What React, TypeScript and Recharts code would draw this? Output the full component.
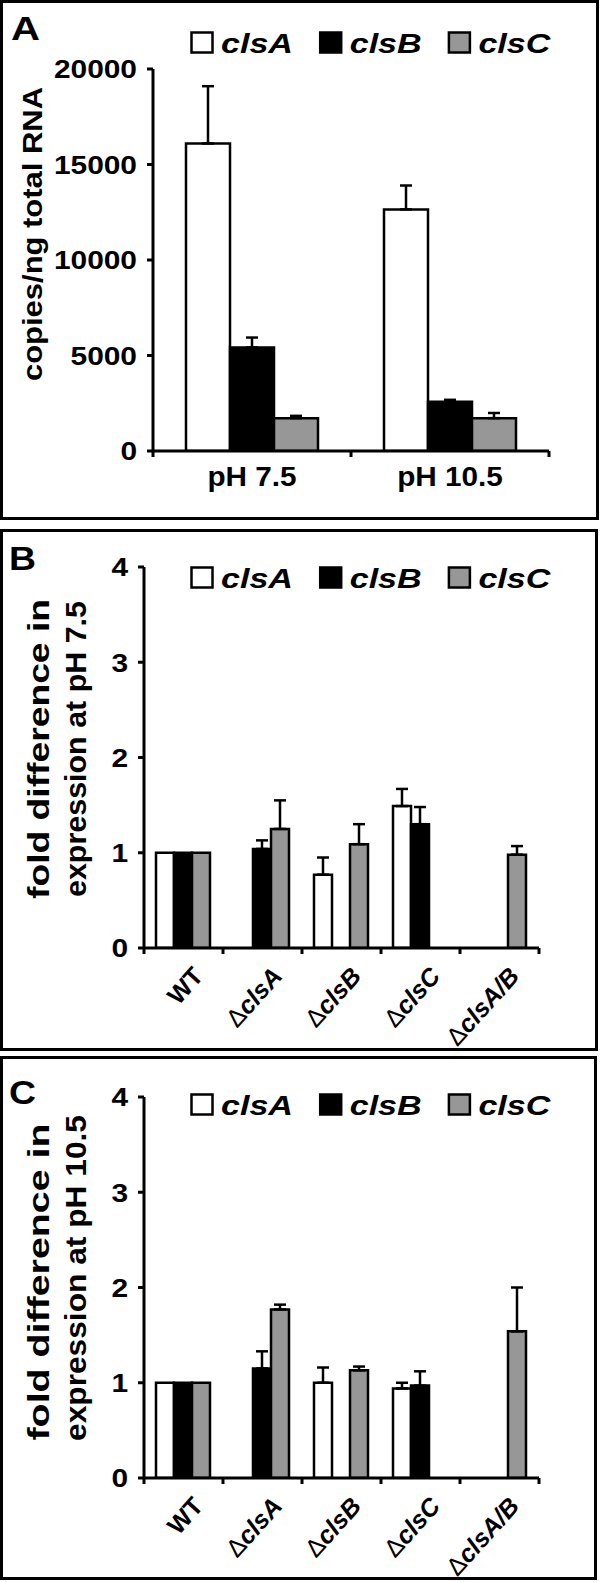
import { BarChart, Bar, XAxis, YAxis, ErrorBar, Legend } from "recharts"

// panel A: absolute copies
const phLabels = ["pH 7.5", "pH 10.5"]
const copiesClsA = [16100, 12650]
const copiesClsAErr = [3000, 1250]
const copiesClsB = [5420, 2580]
const copiesClsBErr = [520, 100]
const copiesClsC = [1720, 1720]
const copiesClsCErr = [120, 270]
const copiesTicks = [0, 5000, 10000, 15000, 20000]

// panels B and C: fold change per strain
const strains = ["WT", "ΔclsA", "ΔclsB", "ΔclsC", "ΔclsA/B"]
const foldTicks = [0, 1, 2, 3, 4]

const ph75ClsA = [1, null, 0.77, 1.49, null]
const ph75ClsAErr = [null, null, 0.18, 0.18, null]
const ph75ClsB = [1, 1.04, null, 1.3, null]
const ph75ClsBErr = [null, 0.09, null, 0.18, null]
const ph75ClsC = [1, 1.25, 1.09, null, 0.98]
const ph75ClsCErr = [null, 0.3, 0.21, null, 0.09]

const ph105ClsA = [1, null, 1.0, 0.94, null]
const ph105ClsAErr = [null, null, 0.16, 0.06, null]
const ph105ClsB = [1, 1.15, null, 0.97, null]
const ph105ClsBErr = [null, 0.18, null, 0.15, null]
const ph105ClsC = [1, 1.77, 1.13, null, 1.54]
const ph105ClsCErr = [null, 0.05, 0.04, null, 0.46]

const FONT = "'Liberation Sans', Arial, sans-serif"
const GRAY = "#979797"

type Num = number | null

function buildRows(cats: string[], a: Num[], ae: Num[], b: Num[], be: Num[], c: Num[], ce: Num[]) {
  const e = (v: Num) => (v == null ? undefined : [0, v])
  return cats.map((name, i) => ({
    name,
    clsA: a[i],
    clsB: b[i],
    clsC: c[i],
    errA: e(ae[i]),
    errB: e(be[i]),
    errC: e(ce[i]),
  }))
}

const copiesRows = buildRows(phLabels, copiesClsA, copiesClsAErr, copiesClsB, copiesClsBErr, copiesClsC, copiesClsCErr)
const ph75Rows = buildRows(strains, ph75ClsA, ph75ClsAErr, ph75ClsB, ph75ClsBErr, ph75ClsC, ph75ClsCErr)
const ph105Rows = buildRows(strains, ph105ClsA, ph105ClsAErr, ph105ClsB, ph105ClsBErr, ph105ClsC, ph105ClsCErr)

const YTick = (props: any) => {
  const { x, y, payload } = props
  return (
    <g transform={`translate(${x},${y})`}>
      <text textAnchor="end" dy="0.36em" transform="scale(1.15,1)" fontSize={26} fontWeight="bold" fontFamily={FONT} fill="#000">
        {payload.value}
      </text>
    </g>
  )
}

// boundary tick marks (Excel style) between categories
function EdgeTicks({ x, y, half, last }: { x: number; y: number; half: number; last: boolean }) {
  return (
    <>
      <line x1={x - half} x2={x - half} y1={y} y2={y + 6} stroke="#000" strokeWidth={3} />
      {last && <line x1={x + half} x2={x + half} y1={y} y2={y + 6} stroke="#000" strokeWidth={3} />}
    </>
  )
}

const PhTick = (props: any) => {
  const { x, y, payload, index, n, band } = props
  const half = payload.offset ?? band / 2
  return (
    <g>
      <EdgeTicks x={x} y={y} half={half} last={index === n - 1} />
      <g transform={`translate(${x},${y + 35})`}>
        <text textAnchor="middle" transform="scale(1.1,1)" fontSize={27} fontWeight="bold" fontFamily={FONT} fill="#000">
          {payload.value}
        </text>
      </g>
    </g>
  )
}

const StrainTick = (props: any) => {
  const { x, y, payload, index, n, band } = props
  const half = payload.offset ?? band / 2
  const v: string = payload.value
  const delta = v.startsWith("Δ")
  return (
    <g>
      <EdgeTicks x={x} y={y} half={half} last={index === n - 1} />
      <g transform={`translate(${x + 21},${y + 29}) rotate(-48)`}>
        <text textAnchor="end" fontSize={25} fontWeight="bold" fontFamily={FONT} fill="#000">
          {delta && <tspan fontWeight="normal">Δ</tspan>}
          <tspan fontStyle={delta ? "italic" : "normal"}>{delta ? v.slice(1) : v}</tspan>
        </text>
      </g>
    </g>
  )
}

const GeneLegend = (props: any) => {
  const items = props.payload || []
  return (
    <svg width={390} height={38}>
      {items.map((it: any, i: number) => (
        <g key={it.value} transform={`translate(${i * 128.7},0)`}>
          <rect x={1.5} y={7.5} width={21} height={20} fill={it.payload?.fill ?? it.color} stroke="#000" strokeWidth={2.5} />
          <text x={31} y={27.5} fontSize={28} fontWeight="bold" fontStyle="italic" fontFamily={FONT} textLength={72} lengthAdjust="spacingAndGlyphs">
            {it.value}
          </text>
        </g>
      ))}
    </svg>
  )
}

interface PanelProps {
  top: number
  width: number
  height: number
  rows: any[]
  max: number
  ticks: number[]
  yWidth: number
  plotTop: number
  plotBottom: number
  plotRight: number
  gap: number
  legendTop: number
  Tick: any
}

function Panel(p: PanelProps) {
  const stroke = { stroke: "#000", strokeWidth: 3 }
  const n = p.rows.length
  const band = (p.plotRight - p.yWidth) / n
  const bottom = p.height - p.plotBottom
  const Tick = p.Tick
  return (
    <>
      <div
        style={{
          position: "absolute",
          left: 0,
          top: p.top,
          width: p.width,
          height: p.height,
          border: "3px solid #000",
          boxSizing: "border-box",
        }}
      />
      <div style={{ position: "absolute", left: 0, top: p.top }}>
        <BarChart
          width={600}
          height={p.height}
          data={p.rows}
          margin={{ top: p.plotTop, right: 600 - p.plotRight, bottom: 6, left: 0 }}
          barGap={0}
          barCategoryGap={p.gap}
        >
          <XAxis
            dataKey="name"
            axisLine={stroke}
            tickLine={false}
            tickSize={0}
            tickMargin={0}
            height={bottom - 6}
            interval={0}
            tick={(tp: any) => <Tick {...tp} n={n} band={band} />}
          />
          <YAxis
            domain={[0, p.max]}
            ticks={p.ticks}
            allowDataOverflow
            interval={0}
            width={p.yWidth}
            tickSize={6}
            tickMargin={10}
            axisLine={stroke}
            tickLine={stroke}
            tick={<YTick />}
          />
          <Legend
            layout="vertical"
            align="center"
            verticalAlign="middle"
            content={<GeneLegend />}
            wrapperStyle={{ position: "absolute", left: 190, top: p.legendTop - 6, width: 390, height: 38 }}
          />
          <Bar dataKey="clsA" name="clsA" fill="#ffffff" stroke="#000" strokeWidth={2.5} isAnimationActive={false}>
            <ErrorBar dataKey="errA" direction="y" width={6} stroke="#000" strokeWidth={2.5} />
          </Bar>
          <Bar dataKey="clsB" name="clsB" fill="#000000" stroke="#000" strokeWidth={2.5} isAnimationActive={false}>
            <ErrorBar dataKey="errB" direction="y" width={6} stroke="#000" strokeWidth={2.5} />
          </Bar>
          <Bar dataKey="clsC" name="clsC" fill={GRAY} stroke="#000" strokeWidth={2.5} isAnimationActive={false}>
            <ErrorBar dataKey="errC" direction="y" width={6} stroke="#000" strokeWidth={2.5} />
          </Bar>
        </BarChart>
      </div>
    </>
  )
}

function RotLabel({ x, cy, len, size, children }: { x: number; cy: number; len: number; size: number; children: string }) {
  return (
    <text
      transform={`translate(${x},${cy}) rotate(-90)`}
      x={-len / 2}
      fontSize={size}
      fontWeight="bold"
      fontFamily={FONT}
      textLength={len}
      lengthAdjust="spacingAndGlyphs"
    >
      {children}
    </text>
  )
}

export default function App() {
  return (
    <div style={{ position: "absolute", left: 0, top: 0, width: 600, height: 1582, background: "#fff", fontFamily: FONT }}>
      <Panel
        top={0}
        width={599}
        height={520}
        rows={copiesRows}
        max={20000}
        ticks={copiesTicks}
        yWidth={153}
        plotTop={69}
        plotBottom={451}
        plotRight={549}
        gap={33}
        legendTop={31}
        Tick={PhTick}
      />
      <Panel
        top={529}
        width={598}
        height={522}
        rows={ph75Rows}
        max={4}
        ticks={foldTicks}
        yWidth={144}
        plotTop={38}
        plotBottom={419}
        plotRight={539}
        gap={12}
        legendTop={37}
        Tick={StrainTick}
      />
      <Panel
        top={1056}
        width={597}
        height={524}
        rows={ph105Rows}
        max={4}
        ticks={foldTicks}
        yWidth={144}
        plotTop={41}
        plotBottom={422}
        plotRight={539}
        gap={12}
        legendTop={37}
        Tick={StrainTick}
      />
      <svg width={600} height={1582} style={{ position: "absolute", left: 0, top: 0, pointerEvents: "none" }}>
        <text x={11} y={40} fontSize={34} fontWeight="bold" fontFamily={FONT} textLength={29} lengthAdjust="spacingAndGlyphs">A</text>
        <text x={9} y={570} fontSize={34} fontWeight="bold" fontFamily={FONT} textLength={27} lengthAdjust="spacingAndGlyphs">B</text>
        <text x={9} y={1104} fontSize={34} fontWeight="bold" fontFamily={FONT} textLength={27} lengthAdjust="spacingAndGlyphs">C</text>
        <RotLabel x={42} cy={234} len={294} size={27}>copies/ng total RNA</RotLabel>
        <RotLabel x={49} cy={749} len={300} size={30}>fold difference in</RotLabel>
        <RotLabel x={86} cy={749} len={296} size={30}>expression at pH 7.5</RotLabel>
        <RotLabel x={49} cy={1282} len={317} size={30}>fold difference in</RotLabel>
        <RotLabel x={86} cy={1278} len={326} size={30}>expression at pH 10.5</RotLabel>
      </svg>
    </div>
  )
}
